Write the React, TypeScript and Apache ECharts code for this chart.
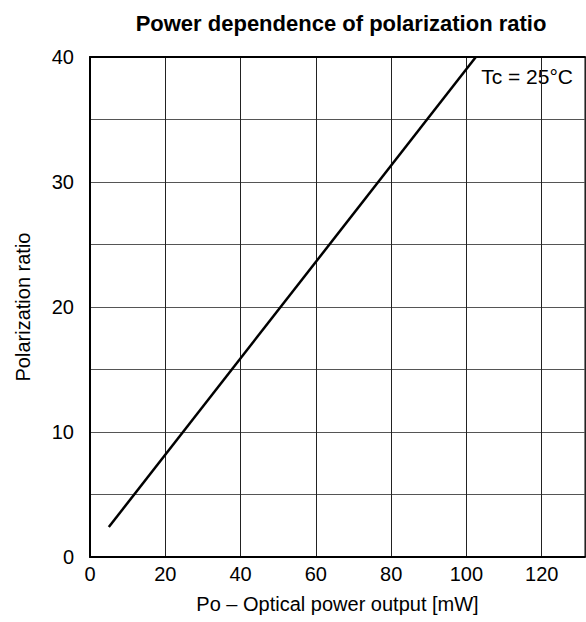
import React, { useEffect, useRef } from "react";
import * as echarts from "echarts";

const titleText = "Power dependence of polarization ratio";
const xName = "Po – Optical power output [mW]";
const yName = "Polarization ratio";
const annotation = "Tc = 25°C";
const powerMW = [5, 102.5];
const ratio = [2.4, 40];

export default function App() {
  const ref = useRef<HTMLDivElement>(null);
  useEffect(() => {
    document.body.style.margin = "0";
    if (!ref.current) return;
    const chart = echarts.init(ref.current, undefined, { renderer: "svg" });
    const font = "Liberation Sans, Arial, sans-serif";
    chart.setOption({
      animation: false,
      title: {
        text: titleText,
        left: 336,
        textAlign: "center",
        top: 7,
        textStyle: { fontFamily: font, fontSize: 22, fontWeight: "bold", color: "#000" },
      },
      grid: {
        left: 90,
        top: 57,
        right: 1,
        bottom: 65,
        show: true,
        borderColor: "#000",
        borderWidth: 1,
      },
      xAxis: [
        {
          type: "value",
          min: 0,
          max: 131.5,
          interval: 20,
          name: xName,
          nameLocation: "middle",
          nameGap: 37,
          nameTextStyle: { fontFamily: font, fontSize: 20, color: "#000" },
          axisLine: { show: true, lineStyle: { color: "#000", width: 2 } },
          axisTick: { show: false },
          axisLabel: {
            fontFamily: font,
            fontSize: 20,
            color: "#000",
            margin: 7,
            showMaxLabel: false,
            formatter: (v: number) => (v % 20 === 0 ? String(v) : ""),
          },
          splitLine: { show: true, lineStyle: { color: "#222", width: 1 } },
        },
        {
          type: "value",
          position: "top",
          min: 0,
          max: 131.5,
          axisLine: { show: true, lineStyle: { color: "#000", width: 2 } },
          axisTick: { show: false },
          axisLabel: { show: false },
          splitLine: { show: false },
        },
      ],
      yAxis: {
        type: "value",
        min: 0,
        max: 40,
        interval: 5,
        name: yName,
        nameLocation: "middle",
        nameGap: 57,
        nameTextStyle: { fontFamily: font, fontSize: 20, color: "#000" },
        axisLine: { show: true, lineStyle: { color: "#000", width: 2 } },
        axisTick: { show: false },
        axisLabel: {
          fontFamily: font,
          fontSize: 20,
          color: "#000",
          margin: 16,
          formatter: (v: number) => (v % 10 === 0 ? String(v) : ""),
        },
        splitLine: { show: true, lineStyle: { color: "#555", width: 1 } },
      },
      graphic: [
        {
          type: "text",
          right: 13,
          top: 66,
          style: { text: annotation, fontFamily: font, fontSize: 21, fill: "#000" },
        },
      ],
      series: [
        {
          type: "line",
          xAxisIndex: 0,
          data: powerMW.map((x, i) => [x, ratio[i]]),
          symbol: "none",
          lineStyle: { color: "#000", width: 2.5 },
        },
      ],
    });
    return () => chart.dispose();
  }, []);
  return <div ref={ref} style={{ width: 586, height: 622 }} />;
}
